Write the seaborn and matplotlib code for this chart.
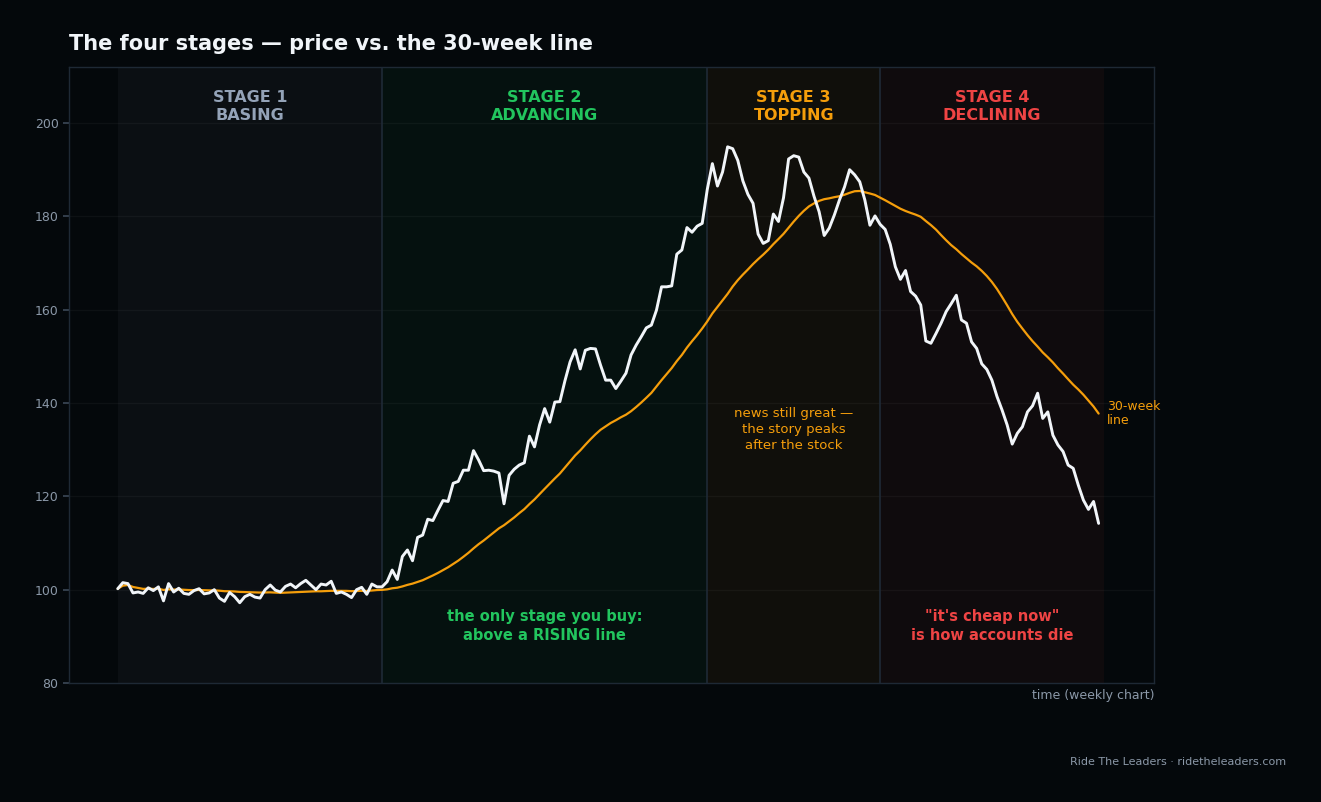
import numpy as np
import pandas as pd
import matplotlib
matplotlib.use("Agg")
import matplotlib.pyplot as plt
import seaborn as sns

# weekly closes (stage 1 -> stage 4)
price = [
    100.2, 101.5, 101.3, 99.3, 99.5, 99.2, 100.4, 99.8, 100.6, 97.6,
    101.3, 99.5, 100.3, 99.2, 99.0, 99.8, 100.2, 99.1, 99.3, 100.0,
    98.2, 97.5, 99.4, 98.5, 97.2, 98.5, 99.0, 98.4, 98.2, 100.0,
    101.0, 99.9, 99.5, 100.7, 101.2, 100.4, 101.3, 102.0, 101.0, 100.0,
    101.2, 101.0, 101.8, 99.2, 99.5, 99.0, 98.3, 100.0, 100.5, 99.0,
    101.2, 100.6,
    100.6, 101.7, 104.2, 102.2, 107.1, 108.5, 106.2, 111.2, 111.7, 115.1,
    114.8, 117.0, 119.1, 118.9, 122.8, 123.2, 125.6, 125.6, 129.8, 127.8,
    125.5, 125.6, 125.4, 125.0, 118.4, 124.5, 125.8, 126.7, 127.2, 132.9,
    130.6, 135.3, 138.8, 135.9, 140.2, 140.3, 144.8, 148.8, 151.4, 147.3,
    151.3, 151.7, 151.6, 148.1, 144.9, 144.9, 143.1, 144.7, 146.4, 150.3,
    152.4, 154.2, 156.1, 156.7, 159.9, 164.9, 164.9, 165.1, 171.9, 172.8,
    177.6, 176.6, 177.9, 178.5,
    185.8, 191.3, 186.5, 189.5, 194.9, 194.5, 192.0, 187.6, 184.7, 182.8,
    176.2, 174.2, 174.8, 180.5, 178.9, 184.0, 192.3, 193.0, 192.7, 189.5,
    188.2, 184.3, 181.0, 175.9, 177.5, 180.3, 183.5, 186.3, 190.0, 188.9,
    187.4, 183.5, 178.1, 180.1,
    178.3, 177.2, 174.0, 169.2, 166.5, 168.4, 163.9, 162.9, 161.0, 153.3,
    152.8, 154.9, 157.1, 159.6, 161.3, 163.1, 157.8, 157.1, 153.1, 151.7,
    148.4, 147.2, 144.9, 141.4, 138.5, 135.3, 131.2, 133.5, 134.9, 138.1,
    139.4, 142.1, 136.7, 138.1, 133.1, 131.0, 129.6, 126.7, 126.0, 122.4,
    119.2, 117.2, 118.9, 114.2,
]

stage_start = [0, 52, 116, 150]
stage_end = [52, 116, 150, 194]
stage_names = ["STAGE 1\nBASING", "STAGE 2\nADVANCING", "STAGE 3\nTOPPING", "STAGE 4\nDECLINING"]
stage_colors = ["#94a3b8", "#22c55e", "#f59e0b", "#ef4444"]

df = pd.DataFrame({"week": np.arange(len(price)), "price": price})
df["ma30"] = df["price"].rolling(30, min_periods=1).mean()

bg = "#04080b"
sns.set_theme(style="dark", rc={"axes.facecolor": bg, "figure.facecolor": bg})
plt.rcParams["font.family"] = ["DejaVu Sans"]

fig = plt.figure(figsize=(13.21, 8.02), dpi=100)
ax = fig.add_axes([0.0522, 0.1484, 0.8214, 0.768])
ax.set_facecolor(bg)

# stage shading
for s, e, c in zip(stage_start, stage_end, stage_colors):
    ax.axvspan(s, e, color=c, alpha=0.05, lw=0, zorder=0)
for b in stage_start[1:]:
    ax.axvline(b, color="#1f2a36", lw=1.2, zorder=1)

sns.lineplot(data=df, x="week", y="price", color="#f1f5f9", lw=2.1, ax=ax, zorder=4)
sns.lineplot(data=df, x="week", y="ma30", color="#f59e0b", lw=1.6, ax=ax, zorder=3)

ax.set_xlim(-9.6, 203.9)
ax.set_ylim(80, 212)
ax.set_yticks(np.arange(80, 201, 20))
ax.set_xticks([])
ax.set_xlabel("")
ax.set_ylabel("")
ax.grid(axis="y", color="#ffffff", alpha=0.04, lw=1)
ax.tick_params(axis="y", colors="#3a4654", labelcolor="#8b98a8", labelsize=9, length=4, left=True)
for sp in ax.spines.values():
    sp.set_color("#1e2935")
    sp.set_linewidth(1)

# stage headers
for s, e, name, c in zip(stage_start, stage_end, stage_names, stage_colors):
    ax.text((s + e) / 2, 0.963, name, transform=ax.get_xaxis_transform(), ha="center", va="top",
            color=c, fontsize=11.5, fontweight="bold", linespacing=1.25)

# notes
ax.text(84, 92.2, "the only stage you buy:\nabove a RISING line", ha="center", va="center",
        color="#22c55e", fontsize=10.5, fontweight="bold", linespacing=1.3)
ax.text(133, 134.4, "news still great \u2014\nthe story peaks\nafter the stock", ha="center", va="center",
        color="#f59e0b", fontsize=9.5, linespacing=1.3)
ax.text(172, 92.2, "\"it's cheap now\"\nis how accounts die", ha="center", va="center",
        color="#ef4444", fontsize=10.5, fontweight="bold", linespacing=1.3)
ax.text(194.6, df["ma30"].iloc[-1], "30-week\nline", ha="left", va="center",
        color="#f59e0b", fontsize=9, linespacing=1.1)

ax.text(1.0, -0.009, "time (weekly chart)", transform=ax.transAxes, ha="right", va="top",
        color="#8b98a8", fontsize=9)

fig.text(0.0522, 0.945, "The four stages \u2014 price vs. the 30-week line", ha="left", va="center",
         color="#f1f5f9", fontsize=15, fontweight="bold")
fig.text(0.9735, 0.0499, "Ride The Leaders \u00b7 ridetheleaders.com", ha="right", va="center",
         color="#8b98a8", fontsize=8)

fig.savefig("out.png", dpi=100, facecolor=bg)
